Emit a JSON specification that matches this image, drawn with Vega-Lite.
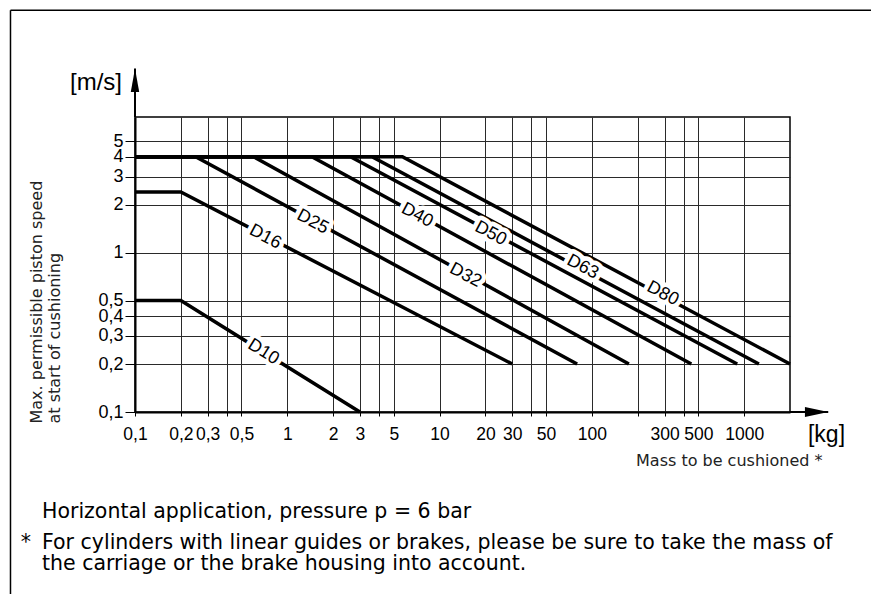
{
  "$schema": "https://vega.github.io/schema/vega-lite/v6.json",
  "width": 655,
  "height": 295,
  "autosize": {"type": "none"},
  "padding": {"left": 135, "top": 117, "right": 81, "bottom": 182},
  "background": "white",
  "config": {"view": {"stroke": "black", "strokeWidth": 1.5}},
  "layer": [
    {
      "data": {
        "values": [
          {"curve": "D10", "x": 0.1, "y": 0.5},
          {"curve": "D10", "x": 0.2, "y": 0.5},
          {"curve": "D10", "x": 3, "y": 0.1},
          {"curve": "D16", "x": 0.1, "y": 2.4},
          {"curve": "D16", "x": 0.2, "y": 2.4},
          {"curve": "D16", "x": 30, "y": 0.2},
          {"curve": "D25", "x": 0.1, "y": 4},
          {"curve": "D25", "x": 0.25, "y": 4},
          {"curve": "D25", "x": 80, "y": 0.2},
          {"curve": "D32", "x": 0.1, "y": 4},
          {"curve": "D32", "x": 0.6, "y": 4},
          {"curve": "D32", "x": 175, "y": 0.2},
          {"curve": "D40", "x": 0.1, "y": 4},
          {"curve": "D40", "x": 1.45, "y": 4},
          {"curve": "D40", "x": 450, "y": 0.2},
          {"curve": "D50", "x": 0.1, "y": 4},
          {"curve": "D50", "x": 2.6, "y": 4},
          {"curve": "D50", "x": 900, "y": 0.2},
          {"curve": "D63", "x": 0.1, "y": 4},
          {"curve": "D63", "x": 3.6, "y": 4},
          {"curve": "D63", "x": 1250, "y": 0.2},
          {"curve": "D80", "x": 0.1, "y": 4},
          {"curve": "D80", "x": 5.7, "y": 4},
          {"curve": "D80", "x": 2000, "y": 0.2}
        ]
      },
      "mark": {"type": "line", "color": "black", "strokeWidth": 3.5, "strokeCap": "butt"},
      "encoding": {
        "x": {
          "field": "x",
          "type": "quantitative",
          "scale": {"type": "log", "domain": [0.1, 2000], "nice": false},
          "axis": {
            "values": [0.1, 0.2, 0.3, 0.4, 0.5, 1, 2, 3, 4, 5, 10, 20, 30, 40, 50, 100, 200, 300, 400, 500, 1000],
            "grid": true,
            "gridColor": "#2a2a2a",
            "gridWidth": 1,
            "domainColor": "black",
            "domainWidth": 2,
            "tickColor": "black",
            "tickSize": 4,
            "tickWidth": 1,
            "labelExpr": "indexof([0.4, 4, 40, 200, 400], datum.value) >= 0 ? '' : replace('' + datum.value, '.', ',')",
            "labelFont": "Liberation Sans",
            "labelFontSize": 17.5,
            "labelColor": "black",
            "labelPadding": 9,
            "labelOverlap": false,
            "labelFlush": false,
            "labelBound": false,
            "title": "Mass to be cushioned *",
            "titleFont": "DejaVu Sans",
            "titleFontSize": 16,
            "titleFontWeight": "normal",
            "titleColor": "#222222",
            "titleX": 687,
            "titleY": 53,
            "titleAlign": "right",
            "titleBaseline": "alphabetic"
          }
        },
        "y": {
          "field": "y",
          "type": "quantitative",
          "scale": {"type": "log", "domain": [0.1, 7.1], "nice": false},
          "axis": {
            "values": [0.1, 0.2, 0.3, 0.4, 0.5, 1, 2, 3, 4, 5],
            "grid": true,
            "gridColor": "#2a2a2a",
            "gridWidth": 1,
            "domainColor": "black",
            "domainWidth": 2,
            "tickColor": "black",
            "tickSize": 10,
            "tickWidth": 1,
            "labelExpr": "replace('' + datum.value, '.', ',')",
            "labelFont": "Liberation Sans",
            "labelFontSize": 18,
            "labelColor": "black",
            "labelPadding": 2,
            "labelOverlap": false,
            "labelFlush": false,
            "labelBound": false,
            "title": ["Max. permissible piston speed", "at start of cushioning"],
            "titleFont": "DejaVu Sans",
            "titleFontSize": 16,
            "titleFontWeight": "normal",
            "titleColor": "#222222",
            "titleAngle": 270,
            "titleAlign": "left",
            "titleBaseline": "alphabetic",
            "titleX": -94,
            "titleY": 306,
            "titleLineHeight": 18
          }
        },
        "detail": {"field": "curve"}
      }
    },
    {
      "data": {
        "name": "labels",
        "values": [
          {"label": "D10", "x": 0.698, "y": 0.238},
          {"label": "D16", "x": 0.717, "y": 1.255},
          {"label": "D25", "x": 1.468, "y": 1.558},
          {"label": "D32", "x": 14.8, "y": 0.72},
          {"label": "D40", "x": 7.13, "y": 1.717},
          {"label": "D50", "x": 21.65, "y": 1.318},
          {"label": "D63", "x": 86.9, "y": 0.813},
          {"label": "D80", "x": 292, "y": 0.553}
        ]
      },
      "mark": {"type": "text", "font": "Liberation Sans", "fontSize": 18, "fill": "white", "stroke": "white", "strokeWidth": 9, "strokeJoin": "round", "align": "center", "baseline": "middle"},
      "encoding": {
        "x": {"field": "x", "type": "quantitative"},
        "y": {"field": "y", "type": "quantitative"},
        "text": {"field": "label"},
        "angle": {"condition": {"test": "datum.label === 'D10'", "value": 32}, "value": 28}
      }
    },
    {
      "data": {"name": "labels"},
      "mark": {"type": "text", "font": "Liberation Sans", "fontSize": 18, "color": "black", "align": "center", "baseline": "middle"},
      "encoding": {
        "x": {"field": "x", "type": "quantitative"},
        "y": {"field": "y", "type": "quantitative"},
        "text": {"field": "label"},
        "angle": {"condition": {"test": "datum.label === 'D10'", "value": 32}, "value": 28}
      }
    },
    {
      "data": {"values": [{}]},
      "mark": {"type": "rule", "color": "black", "strokeWidth": 2},
      "encoding": {"x": {"datum": 0.1}, "y": {"datum": 7.1}, "y2": {"datum": 14.3}}
    },
    {
      "data": {"values": [{}]},
      "mark": {"type": "rule", "color": "black", "strokeWidth": 2},
      "encoding": {"y": {"datum": 0.1}, "x": {"datum": 2000}, "x2": {"datum": 3565}}
    },
    {
      "data": {"values": [{}]},
      "mark": {"type": "point", "shape": "M0,-1L0.36,1L-0.36,1Z", "size": 548, "filled": true, "color": "black", "opacity": 1, "strokeWidth": 0},
      "encoding": {"x": {"datum": 0.1}, "y": {"datum": 12.08}}
    },
    {
      "data": {"values": [{}]},
      "mark": {"type": "point", "shape": "M1,0L-1,-0.43L-1,0.43Z", "size": 548, "filled": true, "color": "black", "opacity": 1, "strokeWidth": 0},
      "encoding": {"x": {"datum": 2993}, "y": {"datum": 0.1}}
    },
    {
      "data": {"values": [{}]},
      "mark": {"type": "rule", "color": "black", "strokeWidth": 1.5},
      "encoding": {"x": {"datum": 0.01522}, "y": {"datum": 0.00718}, "y2": {"datum": 33.19}}
    },
    {
      "data": {"values": [{}]},
      "mark": {"type": "rule", "color": "black", "strokeWidth": 1.5},
      "encoding": {"y": {"datum": 33.19}, "x": {"datum": 0.01522}, "x2": {"datum": 6808}}
    },
    {
      "data": {"values": [{}]},
      "mark": {"type": "text", "font": "Liberation Sans", "fontSize": 24, "color": "black", "align": "right", "baseline": "alphabetic"},
      "encoding": {"x": {"datum": 0.0822}, "y": {"datum": 10.52}, "text": {"value": "[m/s]"}}
    },
    {
      "data": {"values": [{}]},
      "mark": {"type": "text", "font": "Liberation Sans", "fontSize": 23, "color": "black", "align": "left", "baseline": "alphabetic"},
      "encoding": {"x": {"datum": 2624}, "y": {"datum": 0.0648}, "text": {"value": "[kg]"}}
    },
    {
      "data": {"values": [{}]},
      "mark": {"type": "text", "font": "DejaVu Sans", "fontSize": 20.5, "color": "black", "align": "left", "baseline": "alphabetic"},
      "encoding": {"x": {"datum": 0.02451}, "y": {"datum": 0.02171}, "text": {"value": "Horizontal application, pressure p = 6 bar"}}
    },
    {
      "data": {"values": [{}]},
      "mark": {"type": "text", "font": "DejaVu Sans", "fontSize": 20.5, "color": "black", "align": "left", "baseline": "alphabetic", "lineHeight": 21},
      "encoding": {"x": {"datum": 0.02451}, "y": {"datum": 0.01391}, "text": {"value": ["For cylinders with linear guides or brakes, please be sure to take the mass of", "the carriage or the brake housing into account."]}}
    },
    {
      "data": {"values": [{}]},
      "mark": {"type": "text", "font": "DejaVu Sans", "fontSize": 20.5, "color": "black", "align": "left", "baseline": "alphabetic"},
      "encoding": {"x": {"datum": 0.01776}, "y": {"datum": 0.01391}, "text": {"value": "*"}}
    }
  ]
}
